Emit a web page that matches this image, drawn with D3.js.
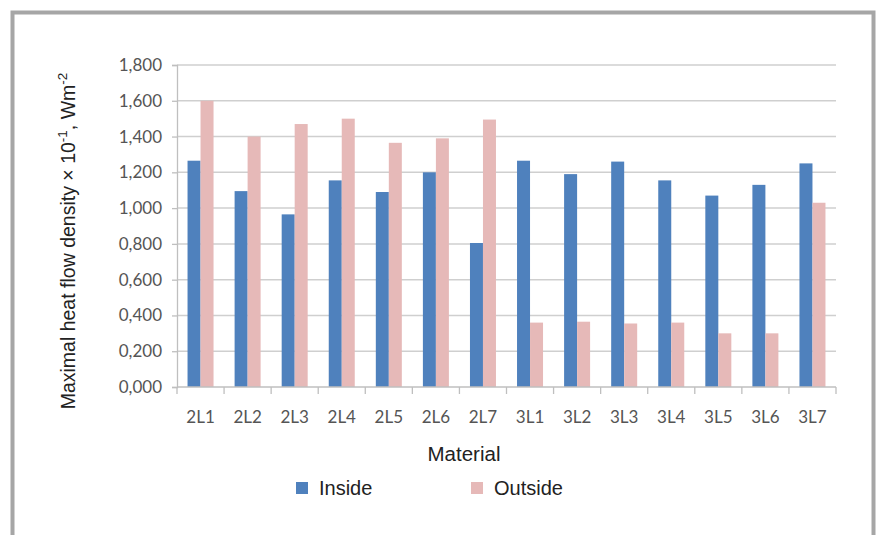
<!DOCTYPE html>
<html><head><meta charset="utf-8">
<script src="https://cdn.jsdelivr.net/npm/d3@7"></script>
<style>body{margin:0;background:#fff}svg{display:block}</style>
</head><body>
<svg id="c" width="877" height="535"></svg>
<script>
const categories = ["2L1","2L2","2L3","2L4","2L5","2L6","2L7","3L1","3L2","3L3","3L4","3L5","3L6","3L7"];
const inside  = [1.265,1.095,0.965,1.155,1.09,1.2,0.805,1.265,1.19,1.26,1.155,1.07,1.13,1.25];
const outside = [1.6,1.4,1.47,1.5,1.365,1.39,1.495,0.36,0.365,0.355,0.36,0.30,0.30,1.03];
const seriesNames = ["Inside","Outside"];
const colors = ["#4f81bd","#e6b9b8"];
const yTicks = [0,0.2,0.4,0.6,0.8,1.0,1.2,1.4,1.6,1.8];

const svg = d3.select("#c");
svg.append("rect").attr("x",12.5).attr("y",12.5).attr("width",861).attr("height",540)
  .attr("fill","#fff").attr("stroke","#a6a6a6").attr("stroke-width",4);

const L=177, R=836, T=65, B=387;
const x = d3.scaleBand().domain(categories).range([L,R]);
const y = d3.scaleLinear().domain([0,1.8]).range([B,T]);
const fmt = v => d3.format(",.3f")(v).replace(".",",");
const tickFont = "Lato, 'Open Sans', sans-serif";
const titleFont = "'Liberation Sans', Arial, sans-serif";

// gridlines
svg.append("g").selectAll("line").data(yTicks.filter(d=>d>0)).join("line")
  .attr("x1",L).attr("x2",R).attr("y1",d=>y(d)).attr("y2",d=>y(d))
  .attr("stroke","#cfcfcf").attr("stroke-width",1.5);

// y axis
const ya = svg.append("g").attr("transform",`translate(${L},0)`)
  .call(d3.axisLeft(y).tickValues(yTicks).tickFormat(fmt).tickSize(5).tickPadding(10));
ya.select(".domain").attr("stroke","#bfbfbf").attr("stroke-width",1.3);
ya.selectAll(".tick line").attr("stroke","#bfbfbf").attr("stroke-width",1.3);
ya.selectAll("text").attr("font-family",tickFont).attr("font-size",17).attr("fill","#555");

// bars
const bw = 13;
const series = [inside, outside];
series.forEach((vals,si)=>{
  svg.append("g").selectAll("rect").data(vals).join("rect")
    .attr("x",(d,i)=>x(categories[i]) + x.bandwidth()/2 - bw + si*bw)
    .attr("width",bw)
    .attr("y",d=>y(d)).attr("height",d=>B-y(d))
    .attr("fill",colors[si]);
});

// x axis
const xa = svg.append("g").attr("transform",`translate(0,${B})`)
  .call(d3.axisBottom(x).tickSize(0).tickPadding(24));
xa.select(".domain").remove();
svg.append("line").attr("x1",L).attr("x2",R).attr("y1",B).attr("y2",B).attr("stroke","#bfbfbf").attr("stroke-width",1.3);
const bounds = categories.map(c=>x(c)).concat([R]);
svg.append("g").selectAll("line").data(bounds).join("line")
  .attr("x1",d=>d).attr("x2",d=>d).attr("y1",B).attr("y2",B+7)
  .attr("stroke","#bfbfbf").attr("stroke-width",1.3);
xa.selectAll("text").attr("font-family",tickFont).attr("font-size",17).attr("fill","#555");

// axis titles
svg.append("text").attr("x",464).attr("y",461).attr("text-anchor","middle")
  .attr("font-family",titleFont).attr("font-size",20.5).attr("fill","#222").text("Material");
const yt = svg.append("text").attr("transform","translate(75,241) rotate(-90)").attr("text-anchor","middle")
  .attr("font-family",titleFont).attr("font-size",19.5).attr("fill","#222");
yt.append("tspan").text("Maximal heat flow density × 10");
yt.append("tspan").attr("font-size",13.5).attr("dy",-8).text("-1");
yt.append("tspan").attr("dy",8).text(", Wm");
yt.append("tspan").attr("font-size",13.5).attr("dy",-8).text("-2");

// legend
const lg = [{n:seriesNames[0],c:colors[0],x:296},{n:seriesNames[1],c:colors[1],x:471}];
lg.forEach(d=>{
  svg.append("rect").attr("x",d.x).attr("y",482).attr("width",12).attr("height",12).attr("fill",d.c);
  svg.append("text").attr("x",d.x+23).attr("y",495).attr("font-family",titleFont)
    .attr("font-size",20).attr("fill","#222").text(d.n);
});
</script>
</body></html>
